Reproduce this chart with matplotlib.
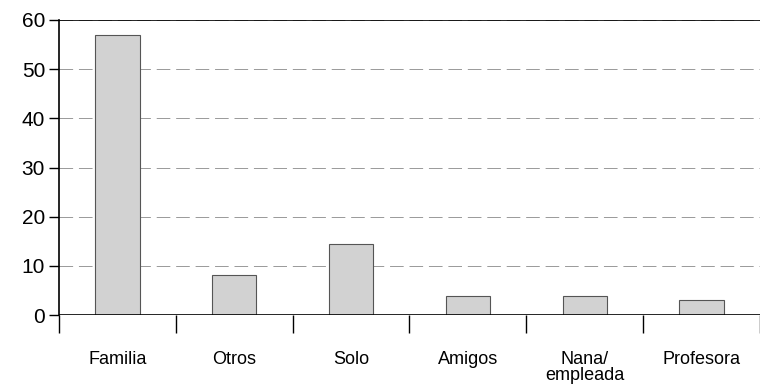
import numpy as np
import matplotlib.pyplot as plt

plt.rcParams['font.family'] = ['Liberation Sans', 'DejaVu Sans']

# datos
categorias = ['Familia', 'Otros', 'Solo', 'Amigos', 'Nana/\nempleada', 'Profesora']
valores = [57, 8.2, 14.4, 3.8, 3.9, 3.0]
yticks = [0, 10, 20, 30, 40, 50, 60]

fig = plt.figure(figsize=(7.6, 3.9), dpi=100)
ax = fig.add_axes([0.0776, 0.192, 0.9224, 0.757])

x = np.arange(len(categorias)) + 0.5
ax.bar(x, valores, width=0.38, color='#d2d2d2', edgecolor='#555555', linewidth=0.8, zorder=3)

ax.set_xlim(0, len(categorias))
ax.set_ylim(0, 60)

# lineas de cuadricula
ax.set_yticks(yticks)
ax.yaxis.grid(True, linestyle=(0, (14, 6)), color='#999999', linewidth=0.7, zorder=0)
ax.axhline(60, color='black', linewidth=1.2, zorder=4)
ax.axhline(0, color='black', linewidth=1.2, zorder=4)

ax.tick_params(axis='y', direction='out', length=7, width=1, labelsize=15, pad=3)

# separadores entre categorias (ticks mayores) y etiquetas (ticks menores)
ax.set_xticks(np.arange(len(categorias) + 1))
ax.set_xticklabels([])
ax.set_xticks(x, minor=True)
ax.set_xticklabels(categorias, minor=True, fontsize=13, linespacing=0.9)
ax.tick_params(axis='x', which='major', direction='out', length=13, width=1)
ax.tick_params(axis='x', which='minor', length=0, pad=26)

for s in ['top', 'right', 'bottom']:
    ax.spines[s].set_visible(False)
ax.spines['left'].set_linewidth(1.2)

fig.savefig('out.png', dpi=100)
